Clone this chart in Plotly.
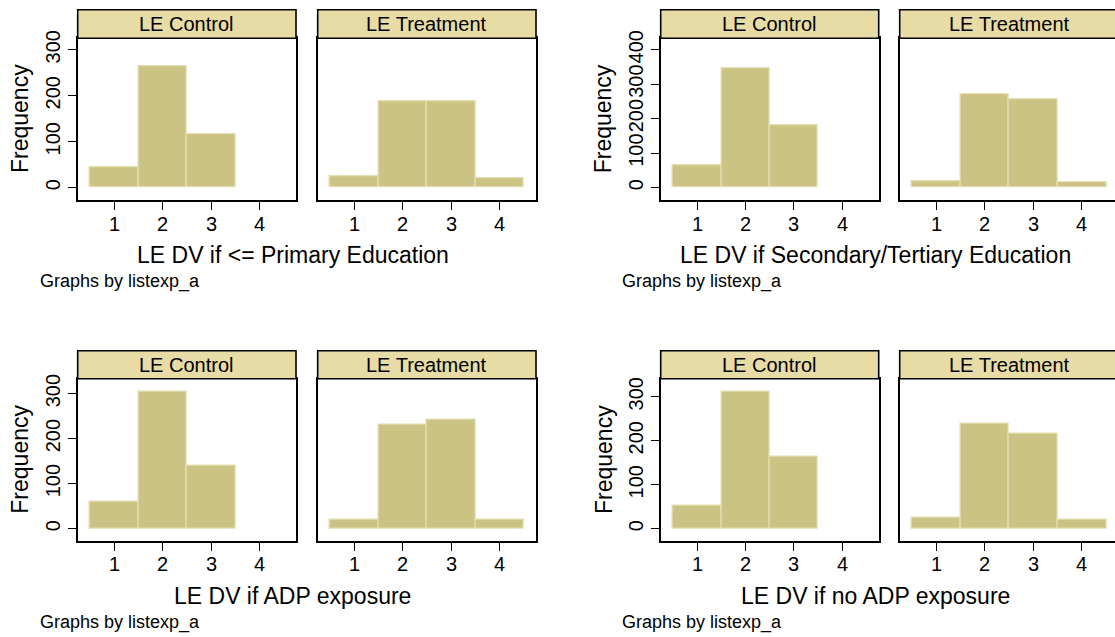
import plotly.graph_objects as go

# ---------------- data (frequencies) ----------------
bins = [1, 2, 3, 4]
panel_names = ["LE Control", "LE Treatment"]
x_titles = ["LE DV if <= Primary Education", "LE DV if Secondary/Tertiary Education",
            "LE DV if ADP exposure", "LE DV if no ADP exposure"]
note_text = "Graphs by listexp_a"
y_title = "Frequency"

primary_control = [44, 265, 116]
primary_treatment = [24, 189, 189, 20]
secondary_control = [64, 346, 180]
secondary_treatment = [17, 272, 255, 16]
adp_control = [59, 305, 139]
adp_treatment = [20, 230, 242, 19]
noadp_control = [52, 312, 164]
noadp_treatment = [25, 238, 215, 21]

yticks_small = [0, 100, 200, 300]
yticks_large = [0, 100, 200, 300, 400]
xticks = [1, 2, 3, 4]

# ---------------- layout helpers ----------------
W, H = 1115, 637
FONT = "Liberation Sans, Arial, sans-serif"
BAR = "#CBC384"
BAR_LINE = "#E4DEB0"
STRIP = "#E7DBA6"

left_x = [(77.7, 296.0), (317.7, 536.0)]
right_x = [(660.7, 878.7), (899.7, 1118.4)]
top_y = {"strip": (9.7, 38.3), "plot": (38.3, 199.7), "tick": 223.7}
bot_y = {"strip": (350.7, 378.7), "plot": (378.7, 540.7), "tick": 564.0}

groups = [
    dict(ctrl=primary_control, trt=primary_treatment, xs=left_x, ys=top_y,
         yr=[-26, 325], yt=yticks_small, title=x_titles[0],
         fx=20, tx=292.5, ty=255, nx=37.7, ny=281.7),
    dict(ctrl=secondary_control, trt=secondary_treatment, xs=right_x, ys=top_y,
         yr=[-35, 433], yt=yticks_large, title=x_titles[1],
         fx=603.3, tx=875.5, ty=255, nx=620, ny=281.7),
    dict(ctrl=adp_control, trt=adp_treatment, xs=left_x, ys=bot_y,
         yr=[-26.7, 333], yt=yticks_small, title=x_titles[2],
         fx=20, tx=292.2, ty=595.7, nx=37.7, ny=622.3),
    dict(ctrl=noadp_control, trt=noadp_treatment, xs=right_x, ys=bot_y,
         yr=[-27.3, 341], yt=yticks_small, title=x_titles[3],
         fx=603.3, tx=875.5, ty=595.7, nx=620, ny=622.3),
]

fig = go.Figure()
layout = {}
shapes = []
annotations = []

def px(x):
    return x / W

def py(y):
    return 1 - y / H

idx = 0
for g in groups:
    for p, vals in enumerate([g["ctrl"], g["trt"]]):
        idx += 1
        xa = "x" if idx == 1 else f"x{idx}"
        ya = "y" if idx == 1 else f"y{idx}"
        xkey = "xaxis" if idx == 1 else f"xaxis{idx}"
        ykey = "yaxis" if idx == 1 else f"yaxis{idx}"
        xl, xr = g["xs"][p]
        cut = xr > W
        xr_dom = min(xr, W)
        unit = (xr - xl) / 4.5
        x_end = 0.25 + (xr_dom - xl) / unit
        pt, pb = g["ys"]["plot"]
        st, sb = g["ys"]["strip"]

        fig.add_trace(go.Bar(
            x=bins[:len(vals)], y=vals, width=1, xaxis=xa, yaxis=ya,
            marker=dict(color=BAR, line=dict(color=BAR_LINE, width=1.2)),
            showlegend=False, hoverinfo="x+y"))

        layout[xkey] = dict(
            domain=[px(xl), px(xr_dom)], range=[0.25, x_end], anchor=ya,
            automargin=False,
            showline=True, mirror=True, linecolor="black", linewidth=1.6,
            ticks="outside", ticklen=8, tickwidth=1.3, tickcolor="black",
            tickvals=xticks, showticklabels=False,
            showgrid=False, zeroline=False, fixedrange=True)
        # x tick labels placed through the axis scale
        for t in xticks:
            annotations.append(dict(text=str(t), xref=xa, yref="paper",
                                    x=t, y=py(g["ys"]["tick"]),
                                    xanchor="center", yanchor="middle", showarrow=False,
                                    font=dict(family=FONT, size=20, color="black")))
        ycfg = dict(
            domain=[py(pb), py(pt)], range=g["yr"], anchor=xa,
            automargin=False,
            showline=True, mirror=(not cut), linecolor="black", linewidth=1.6,
            showgrid=False, zeroline=False, fixedrange=True)
        if p == 0:
            ycfg.update(ticks="outside", ticklen=8, tickwidth=1.3, tickcolor="black",
                        tickvals=g["yt"], ticktext=[str(t) for t in g["yt"]],
                        tickangle=-90,
                        tickfont=dict(family=FONT, size=20, color="black"))
        else:
            ycfg.update(showticklabels=False, ticks="")
        layout[ykey] = ycfg

        shapes.append(dict(type="rect", xref="paper", yref="paper",
                           x0=px(xl), x1=px(xr), y0=py(sb), y1=py(st),
                           fillcolor=STRIP, line=dict(color="black", width=1.6),
                           layer="above"))
        annotations.append(dict(text=panel_names[p], xref="paper", yref="paper",
                                x=px((xl + xr) / 2), y=py((st + sb) / 2),
                                xanchor="center", yanchor="middle", showarrow=False,
                                font=dict(family=FONT, size=20, color="black")))

    pt, pb = g["ys"]["plot"]
    annotations.append(dict(text=y_title, xref="paper", yref="paper",
                            x=px(g["fx"]), y=py((pt + pb) / 2), textangle=-90,
                            xanchor="center", yanchor="middle", showarrow=False,
                            font=dict(family=FONT, size=23, color="black")))
    annotations.append(dict(text=g["title"], xref="paper", yref="paper",
                            x=px(g["tx"]), y=py(g["ty"]),
                            xanchor="center", yanchor="middle", showarrow=False,
                            font=dict(family=FONT, size=23, color="black")))
    annotations.append(dict(text=note_text, xref="paper", yref="paper",
                            x=px(g["nx"]), y=py(g["ny"]),
                            xanchor="left", yanchor="middle", showarrow=False,
                            font=dict(family=FONT, size=18, color="black")))

fig.update_layout(**layout)
fig.update_layout(
    width=W, height=H, margin=dict(l=0, r=0, t=0, b=0, pad=0, autoexpand=False),
    paper_bgcolor="white", plot_bgcolor="white",
    barmode="overlay", bargap=0,
    shapes=shapes, annotations=annotations,
    font=dict(family=FONT, color="black"),
)

fig.write_html("out.html", config={"displayModeBar": False},
               post_script="document.body.style.margin='0';document.body.style.overflow='hidden';")
